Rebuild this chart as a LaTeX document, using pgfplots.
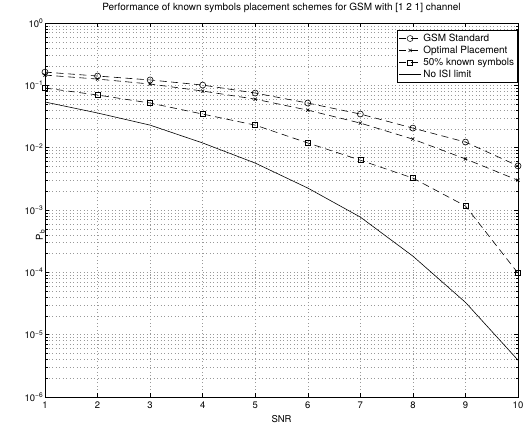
\documentclass[border=0pt]{standalone}
\usepackage{fontspec}
\setmainfont{TeX Gyre Heros}
\usepackage{pgfplots}
\pgfplotsset{compat=1.18}
\usepackage{pgfplotstable}
\usetikzlibrary{calc}

% Pb against SNR
\pgfplotstableread{
snr gsm    opt    half    noisi
1   0.163  0.146  0.0905  0.054
2   0.141  0.126  0.070   0.036
3   0.122  0.105  0.052   0.023
4   0.101  0.081  0.0346  0.0119
5   0.0752 0.060  0.023   0.00566
6   0.052  0.040  0.0119  0.00225
7   0.0346 0.0248 0.0063  0.00077
8   0.0206 0.0137 0.00325 0.000182
9   0.0123 0.0066 0.00116 0.000033
10  0.0051 0.0030 0.000097 0.0000039
}\pbdata

\begin{document}
\begin{tikzpicture}
\begin{axis}[
  scale only axis, width=473bp, height=374bp,
  ymode=log, xmin=1, xmax=10, ymin=1e-6, ymax=1,
  xtick={1,...,10},
  ytick={1e-6,1e-5,1e-4,1e-3,1e-2,1e-1,1},
  yticklabels={10\textsuperscript{−6},10\textsuperscript{−5},10\textsuperscript{−4},10\textsuperscript{−3},10\textsuperscript{−2},10\textsuperscript{−1},10\textsuperscript{0}},
  minor ytick={2e-6,3e-6,4e-6,5e-6,6e-6,7e-6,8e-6,9e-6,
    2e-5,3e-5,4e-5,5e-5,6e-5,7e-5,8e-5,9e-5,
    2e-4,3e-4,4e-4,5e-4,6e-4,7e-4,8e-4,9e-4,
    2e-3,3e-3,4e-3,5e-3,6e-3,7e-3,8e-3,9e-3,
    2e-2,3e-2,4e-2,5e-2,6e-2,7e-2,8e-2,9e-2,
    2e-1,3e-1,4e-1,5e-1,6e-1,7e-1,8e-1,9e-1},
  /pgf/number format/assume math mode=true,
  tick align=inside, tick pos=both,
  major tick length=4bp, minor tick length=2.5bp,
  axis line style={line width=0.9bp},
  every tick/.style={black, line width=0.5bp},
  grid=both,
  major grid style={black!40, line width=0.5bp, dash pattern=on 0.9bp off 2.6bp},
  minor grid style={black!40, line width=0.5bp, dash pattern=on 0.9bp off 2.6bp},
  ticklabel style={font=\fontsize{9.5}{10}\selectfont},
  yticklabel style={anchor=east, inner sep=1.5bp},
  xticklabel style={inner sep=1bp, yshift=-4bp},
  xlabel={SNR},
  ylabel={P\textsubscript{b}},
  every axis x label/.style={at={(axis description cs:0.5,0)}, anchor=north, inner sep=0pt, yshift=-18.5bp, font=\fontsize{9.5}{10}\selectfont},
  every axis y label/.style={at={(axis description cs:0,0.5)}, rotate=90, anchor=south, inner sep=0pt, xshift=-25bp, font=\fontsize{9.5}{10}\selectfont},
  title={Performance of known symbols placement schemes for GSM with [1 2 1] channel},
  title style={at={(axis description cs:0.5,1)}, anchor=south, inner sep=0pt, yshift=4bp, font=\fontsize{10}{11}\selectfont},
  legend style={at={(axis description cs:1,0.981)}, anchor=north east,
    draw=black, line width=0.9bp, fill=white, font=\fontsize{10}{12.7}\selectfont,
    inner sep=1.5bp, row sep=-1bp, legend cell align=left},
  legend image code/.code={\draw[#1, line width=0.5bp] (0bp,0bp) -- (22bp,0bp) plot coordinates {(11bp,0bp)};},
  every axis plot/.append style={black, line width=0.6bp},
]
\coordinate (bl) at (rel axis cs:0,0);
\coordinate (tr) at (rel axis cs:1,1);
\addplot[dash pattern=on 7bp off 4.5bp, mark=o, mark size=3bp, mark options={solid}] table[x=snr, y=gsm] {\pbdata};
\addlegendentry{GSM Standard}
\addplot[dash pattern=on 7bp off 4.5bp, mark=x, mark size=2.2bp, mark options={solid}] table[x=snr, y=opt] {\pbdata};
\addlegendentry{Optimal Placement}
\addplot[dash pattern=on 7bp off 4.5bp, mark=square, mark size=2.5bp, mark options={solid}] table[x=snr, y=half] {\pbdata};
\addlegendentry{50\% known symbols}
\addplot[solid] table[x=snr, y=noisi] {\pbdata};
\addlegendentry{No ISI limit}
\end{axis}
\pgfresetboundingbox
\path ($(bl)+(-45bp,-27bp)$) rectangle ($(tr)+(5bp,23bp)$);
\end{tikzpicture}
\end{document}
